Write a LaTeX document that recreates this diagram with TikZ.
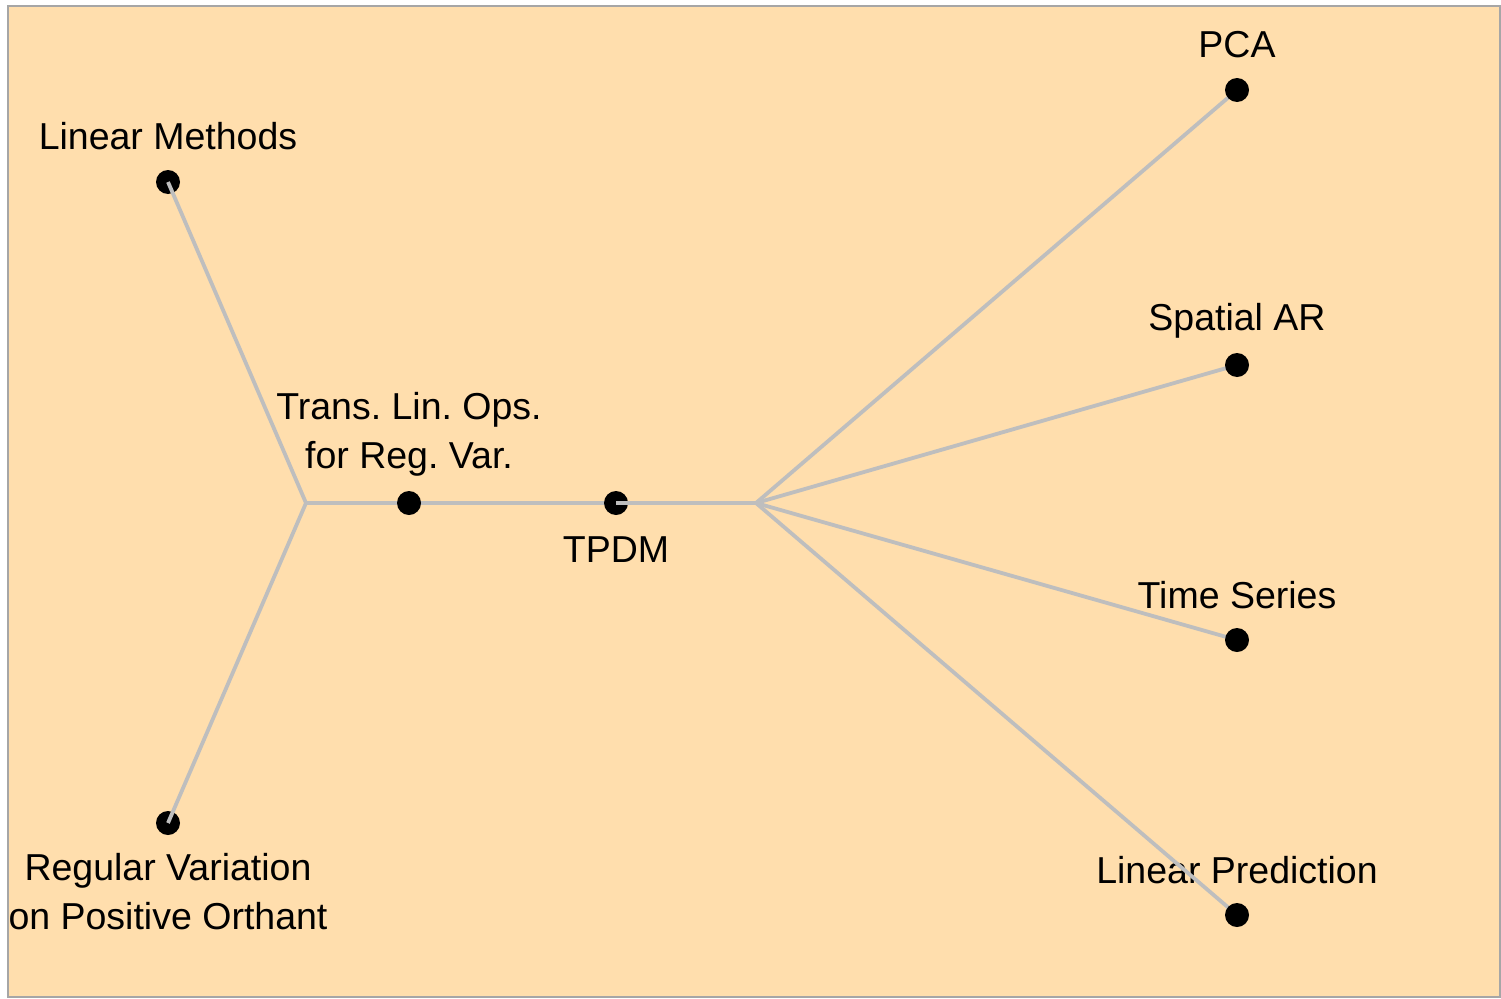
\documentclass[tikz,border=0pt]{standalone}
\usepackage{fontspec}
\setmainfont{Liberation Sans}
\definecolor{bg}{RGB}{255,222,173}
\definecolor{edgegray}{RGB}{190,190,190}
\begin{document}
\frenchspacing
\begin{tikzpicture}[x=1pt,y=-1pt,
  dot/.style={circle,fill=black,inner sep=0pt,minimum size=24pt},
  lbl/.style={font=\fontsize{37.5}{49}\selectfont,anchor=base,inner sep=0pt,align=center},
  conn/.style={draw=edgegray,line width=3.8pt}]
\useasboundingbox (0,0) rectangle (1501,998);
\fill[white] (0,0) rectangle (1501,998);
\draw[fill=bg,draw=gray!70,line width=1.5pt] (8,6) rectangle (1500,997);
% junctions
\coordinate (jl) at (306,503);
\coordinate (jr) at (756,503);
% labels
\node[lbl] (tlm) at (168,149) {Linear Methods};
\node[lbl] (trv) at (168,929) {Regular Variation\\on Positive Orthant};
\node[lbl] (ttl) at (409,468) {Trans. Lin. Ops.\\for Reg. Var.};
\node[lbl] (ttp) at (616,562) {TPDM};
\node[lbl] (tpca) at (1237,58) {PCA};
\node[lbl] (tsar) at (1237,330) {Spatial AR};
\node[lbl] (tts) at (1237,608) {Time Series};
\node[lbl] (tlp) at (1237,883) {Linear Prediction};
% lines under dots
\draw[conn] (jl) -- (jr);
\draw[conn] (jr) -- (1237,90) coordinate (cpca);
\draw[conn] (jr) -- (1237,365) coordinate (csar);
\draw[conn] (jr) -- (1237,640) coordinate (cts);
\draw[conn] (jr) -- (1237,915) coordinate (clp);
% dots
\node[dot] (lm) at (168,182) {};
\node[dot] (rv) at (168,823) {};
\node[dot] (tl) at (409,503) {};
\node[dot] (tp) at (616,503) {};
\node[dot] (pca) at (cpca) {};
\node[dot] (sar) at (csar) {};
\node[dot] (ts) at (cts) {};
\node[dot] (lp) at (clp) {};
% lines over dots
\draw[conn] (jl) -- (lm.center);
\draw[conn] (jl) -- (rv.center);
\draw[conn] (tp.center) -- (jr);
\end{tikzpicture}
\end{document}
